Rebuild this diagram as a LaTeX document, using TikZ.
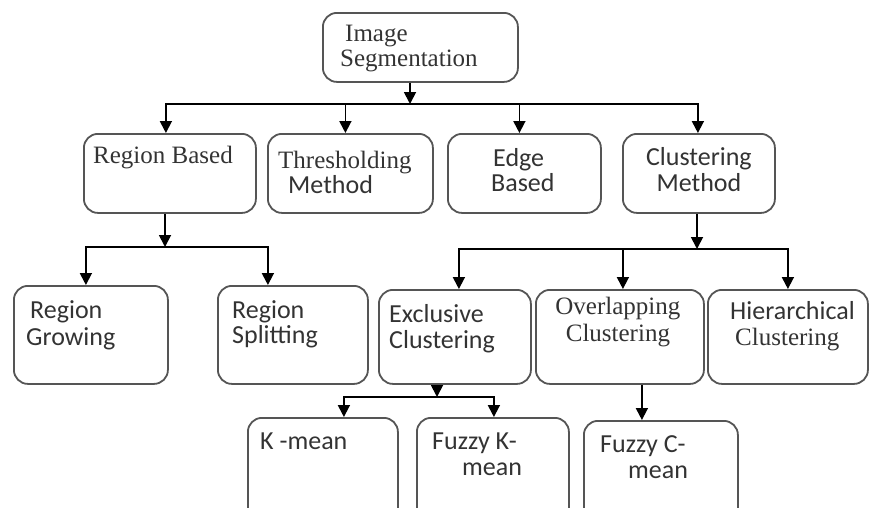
\documentclass[tikz,border=0pt]{standalone}
\usepackage{fontspec}
\setmainfont{Liberation Serif}
\setsansfont{Carlito}
\usetikzlibrary{arrows.meta, positioning}
\definecolor{boxgray}{HTML}{555555}
\definecolor{txtgray}{HTML}{333333}
\newcommand{\serf}{\fontsize{25}{22}\selectfont\rmfamily}
\newcommand{\sanf}{\fontsize{26}{26}\selectfont\sffamily}
\tikzset{
  box/.style={draw=boxgray, line width=1.8pt, rounded corners=14pt, inner sep=0pt, anchor=north west},
  lbl/.style={inner sep=0pt, anchor=base west, align=left, text=txtgray},
  clbl/.style={inner sep=0pt, anchor=base, align=center, text=txtgray},
  arr/.style={-{Triangle[length=12pt,width=12pt]}, line width=1.8pt},
}

\begin{document}
\begin{tikzpicture}[x=1pt, y=-1pt]
  \useasboundingbox (0,0) rectangle (870,507);
  \clip (0,0) rectangle (870,507);
  % root
  \node[box, minimum width=195pt, minimum height=69pt] (seg) at (322,12) {};
  % second row: the four families
  \node[box, minimum width=172pt, minimum height=79pt] (rb) at (83,133) {};
  \node[box, minimum width=165pt, minimum height=79pt] (th) at (267,133) {};
  \node[box, minimum width=153pt, minimum height=79pt] (eb) at (447,133) {};
  \node[box, minimum width=152pt, minimum height=79pt] (cm) at (622,133) {};
  % third row: region and clustering variants
  \node[box, minimum width=154pt, minimum height=98pt] (rg) at (13,285) {};
  \node[box, minimum width=150pt, minimum height=98pt] (rs) at (217,285) {};
  \node[box, minimum width=152pt, minimum height=94pt] (ec) at (378,289) {};
  \node[box, minimum width=168pt, minimum height=94pt] (oc) at (535,289) {};
  \node[box, minimum width=160pt, minimum height=94pt] (hc) at (707,289) {};
  % bottom row (cut off by the frame)
  \node[box, minimum width=150pt, minimum height=120pt] (km) at (247,417) {};
  \node[box, minimum width=152pt, minimum height=120pt] (fk) at (416,417) {};
  \node[box, minimum width=154pt, minimum height=120pt] (fc) at (583,420) {};

  % labels (base = last line)
  \node[lbl, font=\serf] (segt) at ([shift={(18,54)}]seg.north west) {\hspace{5pt}Image\\[3pt]Segmentation};
  \node[lbl, font=\serf] (rbt) at ([shift={(10,30)}]rb.north west) {Region Based};
  \node[lbl, font=\sanf] (tht) at ([shift={(11,60)}]th.north west) {{\serf Thresholding}\\[-1pt]\hspace{10pt}Method};
  \node[lbl, font=\sanf] (ebt) at ([shift={(44,58)}]eb.north west) {\hspace{2pt}Edge\\[-1pt]Based};
  \node[clbl, font=\sanf] (cmt) at ([shift={(0,58)}]cm.north) {Clustering\\Method};
  \node[lbl, font=\sanf] (rgt) at ([shift={(13,60)}]rg.north west) {\hspace{4pt}Region\\[1pt]Growing};
  \node[lbl, font=\sanf] (rst) at ([shift={(15,58)}]rs.north west) {Region\\[-1pt]Splitting};
  \node[lbl, font=\sanf] (ect) at ([shift={(11,59)}]ec.north west) {Exclusive\\Clustering};
  \node[clbl, font=\serf] (oct) at ([shift={(-2,52)}]oc.north) {Overlapping\\[3pt]Clustering};
  \node[lbl, font=\sanf] (hct) at ([shift={(23,56)}]hc.north west) {Hierarchical\\\hspace{5pt}{\serf Clustering}};
  \node[lbl, font=\sanf] (kmt) at ([shift={(13,32)}]km.north west) {K -mean};
  \node[lbl, font=\sanf] (fkt) at ([shift={(16,58)}]fk.north west) {Fuzzy K-\\\hspace{30pt}mean};
  \node[lbl, font=\sanf] (fct) at ([shift={(17,58)}]fc.north west) {Fuzzy C-\\\hspace{28pt}mean};

  % root to the four families
  \coordinate (b1) at (410,104);
  \draw[arr] (seg.south -| b1) -- (b1);
  \foreach \n/\dx in {rb/-4, th/-5, eb/-5, cm/-1}{\draw[arr] (b1) -| ([xshift=\dx pt]\n.north);}
  % region based split
  \coordinate (b2) at (165,247);
  \draw[arr] (rb.south -| b2) -- (b2);
  \foreach \n/\dx in {rg/-5, rs/-25}{\draw[arr] (b2) -| ([xshift=\dx pt]\n.north);}
  % clustering split
  \coordinate (b3) at (697,249);
  \draw[arr] (cm.south -| b3) -- (b3);
  \foreach \n/\dx in {ec/4, oc/3, hc/0}{\draw[arr] (b3) -| ([xshift=\dx pt]\n.north);}
  % exclusive split
  \coordinate (b4) at (437,397);
  \draw[arr] (ec.south -| b4) -- (b4);
  \foreach \n/\dx in {km/21, fk/1}{\draw[arr] (b4) -| ([xshift=\dx pt]\n.north);}
  % overlapping to fuzzy c-mean
  \draw[arr] ([xshift=22pt]oc.south) -- ([xshift=22pt]oc.south |- fc.north);
\end{tikzpicture}
\end{document}
